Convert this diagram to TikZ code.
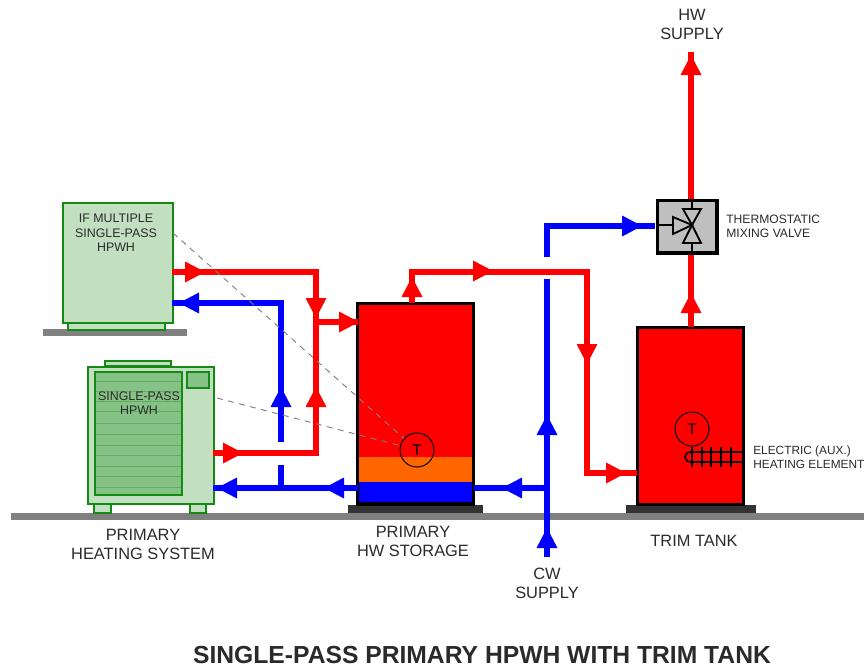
\documentclass[tikz,border=0pt]{standalone}
\usepackage{fontspec}
\setmainfont{Liberation Sans}
\definecolor{pgreen}{HTML}{C2DFBF}
\definecolor{dgreen}{HTML}{138A13}
\definecolor{cgreen}{HTML}{86C286}
\definecolor{fingreen}{HTML}{5FAE5F}
\definecolor{gnd}{HTML}{808080}
\definecolor{plinth}{HTML}{333333}
\definecolor{orng}{HTML}{FF6600}
\definecolor{txt}{HTML}{2A2A2A}
\tikzset{
  x=0.75pt,y=-0.75pt,
  redpipe/.style={draw=red,line width=4.2pt,line join=miter},
  bluepipe/.style={draw=blue,line width=4.1pt,line join=miter},
  unit/.style={draw=dgreen,fill=pgreen,line width=1.5pt},
  coil/.style={draw=dgreen,fill=cgreen,line width=1.5pt},
  fin/.style={draw=fingreen,line width=0.6pt},
  tank/.style={draw=black,line width=2.8pt},
  leader/.style={draw=gray,line width=0.7pt,dash pattern=on 4.5pt off 4pt},
  sensor/.style={draw=black,line width=0.75pt,circle,minimum size=25.5pt,inner sep=0pt,font=\fontsize{11.5}{12}\selectfont},
  lbl/.style={align=center,text=txt,font=\fontsize{12.3}{14.2}\selectfont,inner sep=0pt},
  smalllbl/.style={align=left,text=txt,font=\fontsize{9.1}{10.6}\selectfont,inner sep=0pt,anchor=west},
  unitlbl/.style={align=center,text=txt,font=\fontsize{9.3}{10.9}\selectfont,inner sep=0pt},
  valvetri/.style={draw=black,fill=none,line width=1.4pt},
}
% \head{colour}{base x}{base y}{angle of travel}
\newcommand{\head}[4]{\fill[#1] (#2,#3) ++(#4+90:10.5) -- ++(#4-90:21) -- ++(#4+27.7:22.6) -- cycle;}
\begin{document}
\begin{tikzpicture}
\useasboundingbox (0,0) rectangle (864,671);
% ground and bases
\fill[gnd] (11,513) rectangle (864,520);
\fill[gnd] (43,329) rectangle (187,336);
% upper unit
\draw[unit] (68,322) rectangle (165,330);
\node[unit,minimum width=82.5pt,minimum height=90pt,inner sep=0pt,anchor=north west] (upper) at (62,202) {};
\node[unitlbl] at (116,233) {IF MULTIPLE\\SINGLE-PASS\\HPWH};
% lower unit
\draw[unit] (105,361) rectangle (171,366);
\draw[unit,line width=1pt] (94,503) rectangle (111,513);
\draw[unit,line width=1pt] (190,503) rectangle (206,513);
\node[unit,minimum width=94.5pt,minimum height=102.75pt,inner sep=0pt,anchor=north west] (lower) at (87,366) {};
\draw[coil] (95,372) rectangle (182,495);
\foreach \y in {381,391,401,411,423,434,445,455,466,476,487}{\draw[fin] (96,\y) -- (181,\y);}
\draw[coil,line width=1pt] (187,372) rectangle (209,388);
\node[unitlbl] at (139,403) {SINGLE-PASS\\HPWH};
% storage tank
\fill[plinth] (348,505) rectangle (483,513);
\fill[red] (357,303) rectangle (474,457);
\fill[orng] (357,457) rectangle (474,482);
\fill[blue] (357,482) rectangle (474,504);
\draw[tank] (357.5,303.5) rectangle (473.5,504);
\coordinate (storeN) at (412,303);
\coordinate (storeW) at (358,322);
\coordinate (storeLW) at (358,488);
\coordinate (storeLE) at (474,488);
% trim tank
\fill[plinth] (626,505) rectangle (756,513);
\fill[red] (637,327) rectangle (744,505);
\draw[tank] (637.5,327.5) rectangle (743.5,504.5);
\coordinate (trimN) at (691,327);
\coordinate (trimW) at (637,473);
% pipes: hot
\coordinate (upOutR) at (172,272);
\coordinate (loOutR) at (213,453);
\coordinate (riser) at (316,272);
\coordinate (riserB) at (316,453);
\coordinate (tee) at (316,322);
\draw[redpipe] (upOutR) -- (riser) -- (riserB) -- (loOutR);
\draw[redpipe] (tee) -- (storeW);
\draw[redpipe] (storeN) -- (412,272) -- (587,272) -- (587,473) -- (trimW);
% pipes: cold
\coordinate (upOutB) at (172,303);
\coordinate (loOutB) at (213,488);
\draw[bluepipe] (upOutB) -- (281,303) -- (281,442);
\draw[bluepipe] (281,465) -- (281,488);
\draw[bluepipe] (loOutB) -- (storeLW);
\draw[bluepipe] (storeLE) -- (547,488);
\draw[bluepipe] (547,557) -- (547,279);
\draw[bluepipe] (547,257) -- (547,226) -- (655,226);
% valve
\node[draw=black,fill=black!25,line width=2.8pt,minimum width=44.5pt,minimum height=39.2pt,inner sep=0pt,anchor=north west] (valve) at (655.5,198.5) {};
\coordinate (hwtop) at (691,52);
\draw[redpipe] (hwtop |- valve.south) -- (trimN);
\draw[redpipe] (hwtop |- valve.north) -- (hwtop);
\draw[valvetri] (692,225) -- (673,217) -- (673,234) -- cycle;
\draw[valvetri] (692,225) -- (683,209) -- (701,209) -- cycle;
\draw[valvetri] (692,225) -- (683,243) -- (701,243) -- cycle;
\draw[black,line width=1.6pt] (valve.west |- 0,225) -- (673,225);
\draw[black,line width=1.6pt] (692,199) -- (692,209);
\draw[black,line width=1.6pt] (692,243) -- (692,253);
% arrowheads
\head{red}{185}{272}{0}
\head{blue}{199}{303}{180}
\head{red}{223}{453}{0}
\head{blue}{237}{488}{180}
\head{red}{316}{298}{90}
\head{red}{316}{407}{270}
\head{blue}{281}{407}{270}
\head{red}{339}{322}{0}
\head{blue}{344}{488}{180}
\head{red}{412}{297}{270}
\head{red}{473}{271}{0}
\head{blue}{522}{488}{180}
\head{red}{587}{344}{90}
\head{red}{606}{473}{0}
\head{blue}{547}{435}{270}
\head{blue}{547}{548}{270}
\head{blue}{622}{226}{0}
\head{red}{691}{313}{270}
\head{red}{691}{75}{270}
% sensors and leaders
\node[sensor] (ts) at (417,450) {T};
\node[sensor] (tt) at (692,429) {T};
\coordinate (leadA) at (173,233);
\coordinate (leadB) at (217,398);
\draw[leader] (leadA) -- (ts);
\draw[leader] (leadB) -- (ts);
% heating element
\draw[black,line width=1.2pt] (743,452) -- (690,452) arc[start angle=270,end angle=90,radius=5] -- (743,462);
\foreach \x in {692,702,711,721,731}{\draw[black,line width=1.2pt] (\x,447) -- (\x,467);}
% labels
\node[lbl] at (692,24) {HW\\SUPPLY};
\node[lbl] at (143,544.5) {PRIMARY\\HEATING SYSTEM};
\node[lbl] at (413,541.5) {PRIMARY\\HW STORAGE};
\node[lbl] at (547,583) {CW\\SUPPLY};
\node[lbl] at (694,541) {TRIM TANK};
\node[smalllbl] at (726,226) {THERMOSTATIC\\MIXING VALVE};
\node[smalllbl,font=\fontsize{8.9}{10.6}\selectfont] at (753,457) {ELECTRIC (AUX.)\\HEATING ELEMENT};
\node[inner sep=0pt,text=txt,font=\bfseries\fontsize{18.5}{20}\selectfont] at (482,655) {SINGLE-PASS PRIMARY HPWH WITH TRIM TANK};
\end{tikzpicture}
\end{document}
